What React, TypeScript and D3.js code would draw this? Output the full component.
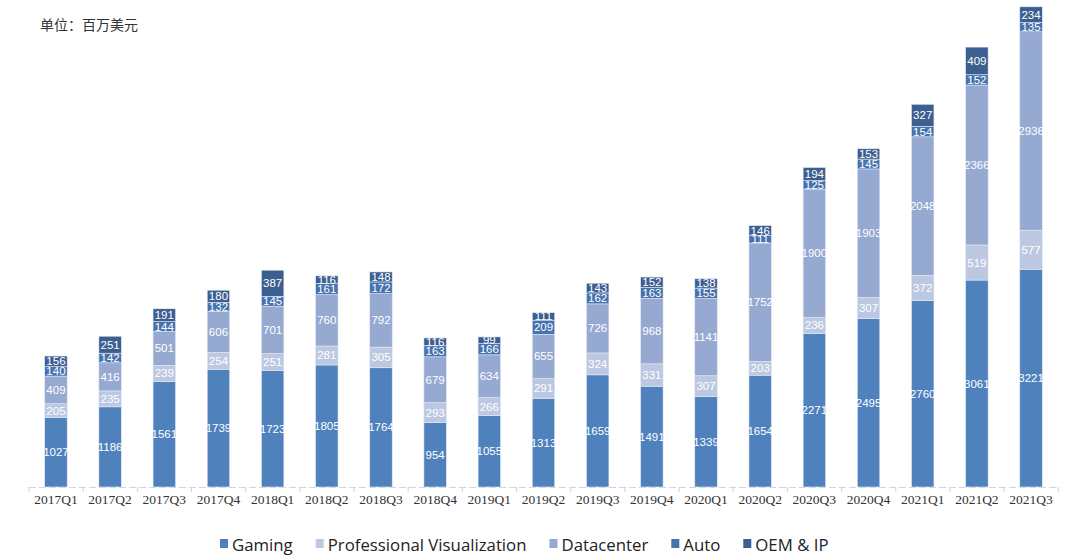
import React from 'react';
import { scaleBand, scaleLinear, stack, select } from 'd3';

const quarters = [
  '2017Q1', '2017Q2', '2017Q3', '2017Q4', '2018Q1', '2018Q2', '2018Q3', '2018Q4',
  '2019Q1', '2019Q2', '2019Q3', '2019Q4', '2020Q1', '2020Q2', '2020Q3', '2020Q4',
  '2021Q1', '2021Q2', '2021Q3',
];
const gaming = [1027, 1186, 1561, 1739, 1723, 1805, 1764, 954, 1055, 1313, 1659, 1491, 1339, 1654, 2271, 2495, 2760, 3061, 3221];
const proViz = [205, 235, 239, 254, 251, 281, 305, 293, 266, 291, 324, 331, 307, 203, 236, 307, 372, 519, 577];
const datacenter = [409, 416, 501, 606, 701, 760, 792, 679, 634, 655, 726, 968, 1141, 1752, 1900, 1903, 2048, 2366, 2936];
const auto = [140, 142, 144, 132, 145, 161, 172, 163, 166, 209, 162, 163, 155, 111, 125, 145, 154, 152, 135];
const oemIp = [156, 251, 191, 180, 387, 116, 148, 116, 99, 111, 143, 152, 138, 146, 194, 153, 327, 409, 234];

const seriesNames = ['Gaming', 'Professional Visualization', 'Datacenter', 'Auto', 'OEM & IP'];
const seriesValues = [gaming, proViz, datacenter, auto, oemIp];
const colors = ['#4f81bd', '#bcc8e1', '#95a9d1', '#4672ae', '#3c5e91'];

const dims = {
  width: 1080,
  height: 559,
  left: 29,
  right: 1058,
  base: 487,
  top: 7,
};

const App: React.FC = () => {
  const legendRef = React.useRef<SVGGElement>(null);

  const rows = quarters.map((q, i) => {
    const r: any = { q };
    seriesNames.forEach((s, k) => (r[s] = seriesValues[k][i]));
    return r;
  });
  const layers = stack<any>().keys(seriesNames)(rows);

  const x = scaleBand().domain(quarters).range([dims.left, dims.right]).paddingInner(0.585).paddingOuter(0.29);
  const y = scaleLinear().domain([0, 7100]).range([dims.base, dims.top]);
  const step = x.step();

  // legend laid out by measured text widths
  React.useEffect(() => {
    const g = select(legendRef.current);
    g.selectAll('*').remove();
    let cx = 220;
    seriesNames.forEach((s, k) => {
      g.append('rect').attr('x', cx).attr('y', 539).attr('width', 8).attr('height', 9).attr('fill', colors[k]);
      const t = g
        .append('text')
        .attr('x', cx + 12)
        .attr('y', 551)
        .attr('font-size', 16.8)
        .attr('font-family', 'Open Sans, sans-serif')
        .attr('fill', '#222')
        .text(s);
      const w = (t.node() as SVGTextElement).getComputedTextLength();
      cx += 12 + w + 23;
    });
  }, []);

  return (
    <svg width={dims.width} height={dims.height} style={{ position: 'absolute', left: 0, top: 0, background: '#fff' }}>
      <text x={40} y={30} fontSize={14} fontFamily="Noto Sans CJK SC" fill="#333">单位：百万美元</text>

      {/* axis line with category separators */}
      <line x1={dims.left} x2={dims.right} y1={dims.base + 0.5} y2={dims.base + 0.5} stroke="#c9d5e8" strokeWidth={1} strokeDasharray="7,3" />
      {quarters.concat(['end']).map((q, i) => {
        const xx = dims.left + i * step;
        return <line key={'t' + i} x1={xx} x2={xx} y1={dims.base} y2={dims.base + 5} stroke="#c9d5e8" />;
      })}

      {layers.map((layer, k) => (
        <g key={seriesNames[k]}>
          {layer.map((d, i) => (
            <rect
              key={i}
              x={x(quarters[i])}
              y={y(d[1])}
              width={x.bandwidth()}
              height={y(d[0]) - y(d[1])}
              fill={colors[k]}
              stroke="#e4e9f3"
              strokeWidth={0.6}
            />
          ))}
        </g>
      ))}

      {layers.map((layer, k) => (
        <g key={'l' + seriesNames[k]}>
          {layer.map((d, i) => (
            <text
              key={i}
              x={(x(quarters[i]) as number) + x.bandwidth() / 2}
              y={(y(d[0]) + y(d[1])) / 2 + 4}
              textAnchor="middle"
              fontSize={11.5}
              fontFamily="Liberation Sans, Arial, sans-serif"
              fill="#fff"
            >
              {seriesValues[k][i]}
            </text>
          ))}
        </g>
      ))}

      {quarters.map((q) => (
        <text
          key={'x' + q}
          x={(x(q) as number) + x.bandwidth() / 2}
          y={504}
          textAnchor="middle"
          fontSize={13.5}
          fontFamily="Liberation Serif, serif"
          fill="#333"
        >
          {q}
        </text>
      ))}

      <g ref={legendRef} />
    </svg>
  );
};

export default App;
